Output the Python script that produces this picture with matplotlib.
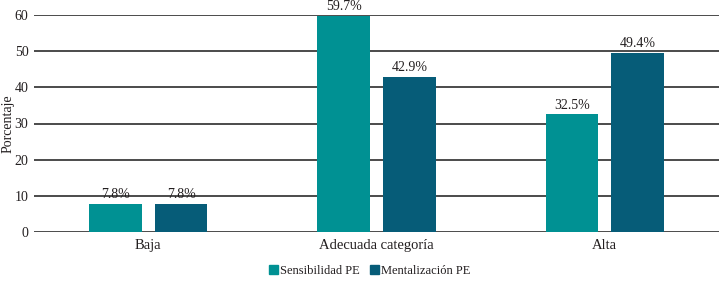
import matplotlib
matplotlib.use("Agg")
import matplotlib.pyplot as plt
import numpy as np
from matplotlib.patches import Patch

categories = ["Baja", "Adecuada categoría", "Alta"]
sensibilidad = [7.8, 59.7, 32.5]
mentalizacion = [7.8, 42.9, 49.4]
series_names = ["Sensibilidad PE", "Mentalización PE"]
yticks = [0, 10, 20, 30, 40, 50, 60]

c1 = "#009193"
c2 = "#065c78"
tc = "#231f20"

plt.rcParams['font.family'] = ['Liberation Serif', 'DejaVu Serif']

fig = plt.figure(figsize=(7.2, 2.81), dpi=100)
ax = fig.add_axes([34/720, 1 - 232/281, 685/720, 217/281])

x = np.arange(len(categories))
w = 0.231
off = 0.144
b1 = ax.bar(x - off, sensibilidad, w, color=c1, zorder=3)
b2 = ax.bar(x + off, mentalizacion, w, color=c2, zorder=3)

for bars, vals in ((b1, sensibilidad), (b2, mentalizacion)):
    for r, v in zip(bars, vals):
        ax.text(r.get_x() + r.get_width()/2, v + 0.8, f"{v}%", ha="center", va="bottom",
                fontsize=10, color=tc, clip_on=False)

ax.set_xlim(-0.5, 2.5)
ax.set_ylim(0, 60)
ax.set_yticks(yticks)
ax.set_yticklabels([str(t) for t in yticks], fontsize=10, color=tc)
ax.set_xticks(x)
ax.set_xticklabels(categories, fontsize=10.5, color=tc)
ax.tick_params(axis='both', length=0)
ax.tick_params(axis='y', pad=4)
ax.tick_params(axis='x', pad=5)
ax.grid(axis='y', color='#1a1a1a', linewidth=1.1, zorder=0)
for s in ax.spines.values():
    s.set_visible(False)
fig.text(8/720, 1 - 124/281, "Porcentaje", rotation=90, ha="center", va="center",
         fontsize=10, color=tc)

handles = [Patch(color=c1), Patch(color=c2)]
fig.legend(handles, series_names, loc='center', bbox_to_anchor=(370/720, 1 - 271/281),
           ncol=2, frameon=False, fontsize=9, handlelength=0.7, handleheight=0.7,
           handletextpad=0.2, columnspacing=0.8, labelcolor=tc)

fig.savefig("out.png", dpi=100)
